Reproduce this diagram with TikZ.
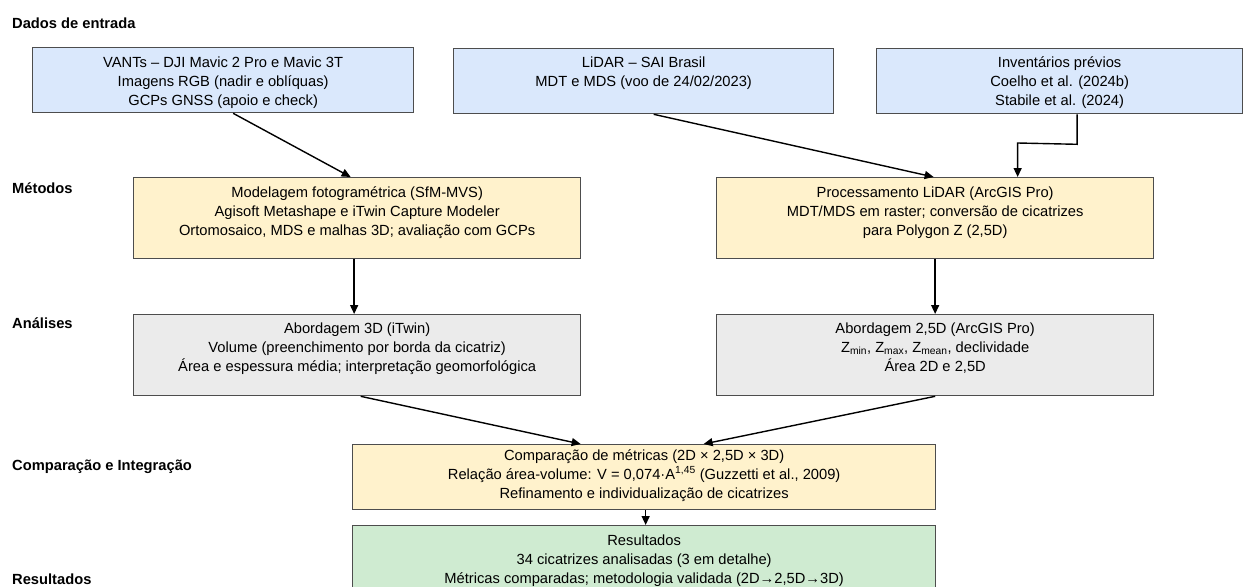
\documentclass[tikz,border=0pt]{standalone}
\usepackage{fontspec}
\setmainfont{Liberation Sans}
\usetikzlibrary{calc,arrows.meta}
\definecolor{inblue}{HTML}{DAE8FC}
\definecolor{inyellow}{HTML}{FFF2CC}
\definecolor{ingray}{HTML}{EBEBEB}
\definecolor{ingreen}{HTML}{CFEBD1}
\definecolor{inborder}{HTML}{4D4D4D}
\newcommand{\bxt}[4]{\parbox[c][#2pt][t]{#1pt}{\centering\fontsize{14.7}{19}\selectfont\rule{0pt}{#3pt}#4}}
\tikzset{
  box/.style={draw=inborder, line width=1.3pt, inner sep=0pt, anchor=north west},
  phase/.style={anchor=west, inner sep=0pt, font=\fontsize{14.7}{17}\selectfont\bfseries},
  conn/.style={line width=1.4pt, -{Triangle[length=9pt,width=8pt]}},
}
\begin{document}
\begin{tikzpicture}[x=1pt,y=-1pt]
\useasboundingbox (0,0) rectangle (1244,586);
\clip (0,0) rectangle (1244,586);
\fill[white] (0,0) rectangle (1244,586);
% phase labels
\node[phase] (l1) at (12,23) {Dados de entrada};
\node[phase] (l2) at (12,188) {Métodos};
\node[phase] (l3) at (12,323) {Análises};
\node[phase] (l4) at (12,467) {Comparação e Integração};
\node[phase] (l5) at (12,579) {Resultados};
% input boxes
\node[box, fill=inblue] (vants) at (32,47) {\bxt{381}{65}{19.5}{VANTs – DJI Mavic 2 Pro e Mavic 3T\\Imagens RGB (nadir e oblíquas)\\GCPs GNSS (apoio e check)}};
\node[box, fill=inblue] (lidar) at (453,48) {\bxt{380}{65}{19}{LiDAR – SAI Brasil\\MDT e MDS (voo de 24/02/2023)}};
\node[box, fill=inblue] (inv) at (876,48) {\bxt{366}{65}{19}{Inventários prévios\\Coelho et al. (2024b)\\Stabile et al. (2024)}};
% methods
\node[box, fill=inyellow] (model) at (133,177) {\bxt{447}{81}{19.5}{Modelagem fotogramétrica (SfM-MVS)\\Agisoft Metashape e iTwin Capture Modeler\\Ortomosaico, MDS e malhas 3D; avaliação com GCPs}};
\node[box, fill=inyellow] (proc) at (716,177) {\bxt{437}{81}{19.5}{Processamento LiDAR (ArcGIS Pro)\\MDT/MDS em raster; conversão de cicatrizes\\para Polygon Z (2,5D)}};
% analyses
\node[box, fill=ingray] (ab3d) at (133,314) {\bxt{447}{81}{18.5}{Abordagem 3D (iTwin)\\Volume (preenchimento por borda da cicatriz)\\Área e espessura média; interpretação geomorfológica}};
\node[box, fill=ingray] (ab25) at (716,314) {\bxt{437}{81}{18.5}{Abordagem 2,5D (ArcGIS Pro)\\Z\textsubscript{min}, Z\textsubscript{max}, Z\textsubscript{mean}, declividade\\Área 2D e 2,5D}};
% comparison
\node[box, fill=inyellow] (comp) at (352,444) {\bxt{583}{65}{15.5}{Comparação de métricas (2D × 2,5D × 3D)\\Relação área-volume: V = 0,074·A\textsuperscript{1,45} (Guzzetti et al., 2009)\\Refinamento e individualização de cicatrizes}};
% results
\node[box, fill=ingreen] (res) at (352,525) {\bxt{583}{75}{19.5}{Resultados\\34 cicatrizes analisadas (3 em detalhe)\\Métricas comparadas; metodologia validada (2D→2,5D→3D)}};
% connectors
\coordinate (invbend1) at ($(inv.south)+(17.5,30)$);
\coordinate (invbend2) at ($(proc.north)+(82.5,-34)$);
\draw[conn] ($(vants.south)+(10,0)$) -- ($(model.north)+(-6.5,0)$);
\draw[conn] ($(lidar.south)+(10,0)$) -- ($(proc.north)+(-1.5,0)$);
\draw[conn] ($(inv.south)+(17.5,0)$) -- (invbend1) -- (invbend2) -- ($(proc.north)+(82.5,0)$);
\draw[conn] ($(model.south)+(-3,0)$) -- ($(ab3d.north)+(-3,0)$);
\draw[conn] (proc.south) -- (ab25.north);
\draw[conn] ($(ab3d.south)+(3.5,0)$) -- ($(comp.north)+(-63.5,0)$);
\draw[conn] (ab25.south) -- ($(comp.north)+(59.5,0)$);
\draw[conn] ($(comp.south)+(1.5,0)$) -- ($(res.north)+(1.5,0)$);
\end{tikzpicture}
\end{document}
